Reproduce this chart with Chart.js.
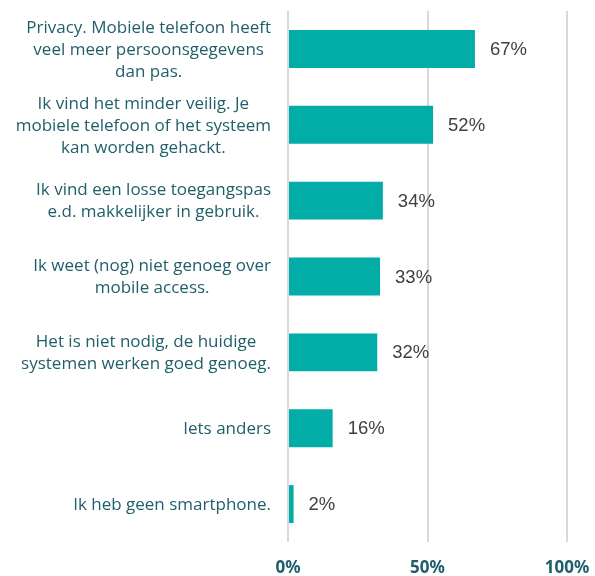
<!DOCTYPE html>
<html>
<head>
<meta charset="utf-8">
<script src="https://cdn.jsdelivr.net/npm/chart.js@4"></script>
<style>
html,body{margin:0;padding:0;background:#fff;}
#wrap{width:595px;height:576px;position:relative;}
</style>
</head>
<body>
<div id="wrap"><canvas id="c" width="595" height="576" style="width:595px;height:576px"></canvas></div>
<script>
const categories = [
  ["Privacy. Mobiele telefoon heeft", "veel meer persoonsgegevens", "dan pas."],
  ["Ik vind het minder veilig. Je", "mobiele telefoon of het systeem", "kan worden gehackt."],
  ["Ik vind een losse toegangspas", "e.d. makkelijker in gebruik."],
  ["Ik weet (nog) niet genoeg over", "mobile access."],
  ["Het is niet nodig, de huidige", "systemen werken goed genoeg."],
  ["Iets anders"],
  ["Ik heb geen smartphone."]
];
const values = [67, 52, 34, 33, 32, 16, 2];
const xTicks = [0, 50, 100];

const LABEL_FONT = '17px "Open Sans"';
const LABEL_COLOR = '#1F5F69';

const leftLabels = {
  id: 'leftLabels',
  afterDraw(chart) {
    const ctx = chart.ctx;
    const y = chart.scales.y;
    const right = 271;
    ctx.save();
    ctx.font = LABEL_FONT;
    ctx.fillStyle = LABEL_COLOR;
    ctx.textAlign = 'center';
    ctx.textBaseline = 'middle';
    const lh = 22;
    categories.forEach((lines, i) => {
      const cy = y.getPixelForValue(i) + 1;
      let maxW = 0;
      lines.forEach(l => { maxW = Math.max(maxW, ctx.measureText(l).width); });
      const cx = right - maxW / 2;
      const start = cy - (lines.length - 1) * lh / 2;
      lines.forEach((l, k) => ctx.fillText(l, cx, start + k * lh));
    });
    ctx.restore();
  }
};

const valueLabels = {
  id: 'valueLabels',
  afterDatasetsDraw(chart) {
    const ctx = chart.ctx;
    const meta = chart.getDatasetMeta(0);
    ctx.save();
    ctx.font = '18.5px "Liberation Sans"';
    ctx.fillStyle = '#404040';
    ctx.textAlign = 'left';
    ctx.textBaseline = 'middle';
    meta.data.forEach((bar, i) => {
      ctx.fillText(values[i] + '%', bar.x + 15, bar.y + 1);
    });
    ctx.restore();
  }
};

new Chart(document.getElementById('c'), {
  type: 'bar',
  data: {
    labels: categories.map(c => c.join(' ')),
    datasets: [{
      data: values,
      backgroundColor: '#02ACA7',
      barPercentage: 0.5,
      categoryPercentage: 1.0
    }]
  },
  options: {
    indexAxis: 'y',
    responsive: false,
    maintainAspectRatio: false,
    animation: false,
    devicePixelRatio: 1,
    layout: { padding: { left: 288, right: 28, top: 11, bottom: 0 } },
    plugins: { legend: { display: false }, tooltip: { enabled: false } },
    scales: {
      x: {
        min: 0, max: 100,
        afterBuildTicks(scale) { scale.ticks = xTicks.map(v => ({ value: v })); },
        afterFit(scale) { scale.height = 34; scale.paddingLeft = 0; scale.paddingRight = 0; },
        grid: { color: '#D9D9D9', lineWidth: 2, drawTicks: false },
        border: { display: false },
        ticks: {
          padding: 16,
          maxRotation: 0,
          autoSkip: false,
          color: '#1F5F69',
          font: { family: '"Noto Sans"', size: 17, weight: 'bold' },
          callback: v => v + '%'
        }
      },
      y: {
        display: false
      }
    }
  },
  plugins: [leftLabels, valueLabels]
});
</script>
</body>
</html>
